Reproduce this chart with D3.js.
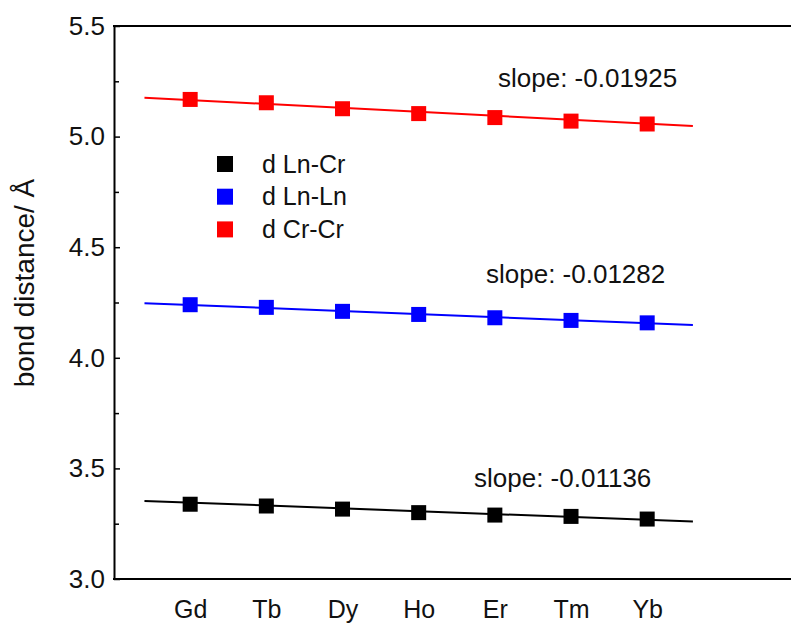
<!DOCTYPE html>
<html><head><meta charset="utf-8">
<script src="https://cdn.jsdelivr.net/npm/d3@7"></script>
<style>body{margin:0;background:#fff}svg{display:block}text{font-family:"Liberation Sans",Arial,sans-serif;fill:#111}</style>
</head><body><div id="chart"></div>
<script>
const categories = ["Gd","Tb","Dy","Ho","Er","Tm","Yb"];
const seriesNames = ["d Ln-Cr","d Ln-Ln","d Cr-Cr"];
const seriesColors = ["#000000","#0000ff","#ff0000"];
const lnCr = [3.338,3.330,3.316,3.300,3.289,3.283,3.271];
const lnLn = [4.240,4.228,4.210,4.196,4.181,4.169,4.158];
const crCr = [5.168,5.153,5.126,5.104,5.086,5.070,5.057];
const fitStart = [3.353,4.247,5.176];
const fitEnd = [3.260,4.148,5.048];
const slopeLabels = ["slope: -0.01136","slope: -0.01282","slope: -0.01925"];
const yTicks = [3.0,3.5,4.0,4.5,5.0,5.5];
const yMinorTicks = [3.25,3.75,4.25,4.75,5.25];
const yTitle = "bond distance/ Å";

const W = 791, H = 627;
const svg = d3.select("#chart").append("svg").attr("width",W).attr("height",H);
const x = d3.scaleLinear().domain([0,9]).range([114,114+9*76.17]);
const y = d3.scaleLinear().domain([3.0,5.5]).range([579,26]);
const series = [lnCr, lnLn, crCr];

// fit lines
series.forEach((s,i)=>{
  svg.append("line")
    .attr("x1",x(0.4)).attr("y1",y(fitStart[i]))
    .attr("x2",x(7.6)).attr("y2",y(fitEnd[i]))
    .attr("stroke",seriesColors[i]).attr("stroke-width",2);
});
// points
const sq = 15;
series.forEach((s,i)=>{
  svg.append("g").selectAll("rect").data(s).join("rect")
    .attr("x",(d,j)=>x(j+1)-sq/2).attr("y",d=>y(d)-sq/2)
    .attr("width",sq).attr("height",sq).attr("fill",seriesColors[i]);
});

// axes
const yAxis = d3.axisLeft(y).tickValues(yTicks).tickFormat(d3.format(".1f")).tickSizeInner(-6).tickSizeOuter(0).tickPadding(9);
const gy = svg.append("g").attr("transform","translate(114,0)").call(yAxis);
gy.select(".domain").attr("stroke","#000").attr("stroke-width",2);
gy.selectAll(".tick line").attr("stroke","#000").attr("stroke-width",1.5);
gy.selectAll(".tick text").attr("font-size",26).attr("fill","#111").style("font-family",'"Liberation Sans",Arial,sans-serif');
const minor = d3.axisLeft(y).tickValues(yMinorTicks).tickSizeInner(-5).tickSizeOuter(0).tickFormat("");
const gm = svg.append("g").attr("transform","translate(114,0)").call(minor);
gm.select(".domain").remove();
gm.selectAll(".tick line").attr("stroke","#000").attr("stroke-width",1.5);

const xAxis = d3.axisBottom(x).tickValues(categories.map((c,i)=>i+1)).tickFormat((d)=>categories[d-1]).tickSize(0).tickPadding(21);
const gx = svg.append("g").attr("transform","translate(0,579)").call(xAxis);
gx.select(".domain").remove();
gx.selectAll(".tick text").attr("font-size",25).attr("fill","#111").style("font-family",'"Liberation Sans",Arial,sans-serif');
svg.append("line").attr("x1",113).attr("x2",W).attr("y1",579).attr("y2",579).attr("stroke","#000").attr("stroke-width",2);
svg.append("line").attr("x1",113).attr("x2",W).attr("y1",26).attr("y2",26).attr("stroke","#000").attr("stroke-width",2);

// y title
svg.append("text").attr("transform","translate(34,283) rotate(-90)")
  .attr("text-anchor","middle").attr("font-size",28).text(yTitle);

// slope labels
const slopeX = [474,486,498];
const slopeY = [487,283,87];
series.forEach((s,i)=>{
  svg.append("text").attr("x",slopeX[i]).attr("y",slopeY[i])
    .attr("font-size",26).text(slopeLabels[i]);
});

// legend
seriesNames.forEach((n,i)=>{
  const cy = 164 + i*32.7;
  svg.append("rect").attr("x",225-8).attr("y",cy-8).attr("width",16).attr("height",16).attr("fill",seriesColors[i]);
  svg.append("text").attr("x",262).attr("y",cy).attr("dy","0.35em").attr("font-size",25).text(n);
});
</script></body></html>
